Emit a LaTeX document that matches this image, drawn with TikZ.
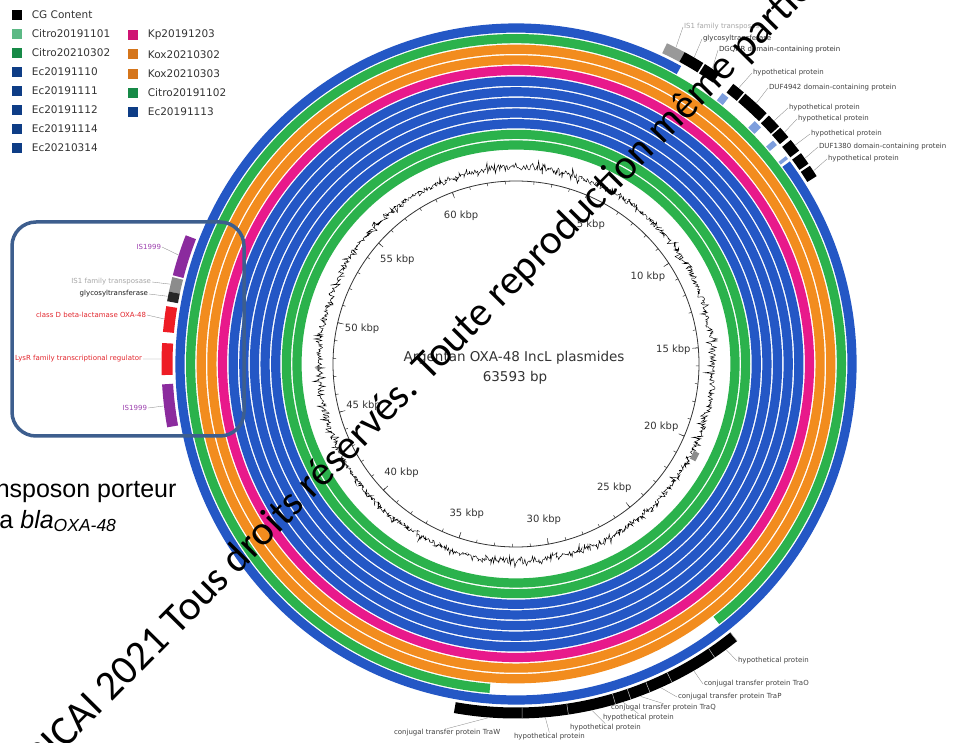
\documentclass[tikz,border=0pt]{standalone}
\usepackage{xcolor}
\usepackage{fontspec}
\setmainfont{DejaVu Sans}
\newfontfamily\wmfont{Carlito}
\newfontfamily\notefont{Liberation Sans}
\usepackage{tikz}
\usetikzlibrary{positioning,calc}

\definecolor{ringblue}{HTML}{2457C5}
\definecolor{ringgreen}{HTML}{2BB24C}
\definecolor{ringorange}{HTML}{F28C1E}
\definecolor{ringpink}{HTML}{E8198B}
\definecolor{fragblue}{HTML}{7D9EDD}
\definecolor{legblue}{HTML}{0E3D86}
\definecolor{leggreen}{HTML}{178A47}
\definecolor{leglight}{HTML}{5CB985}
\definecolor{legorange}{HTML}{D5751B}
\definecolor{legpink}{HTML}{CF1473}
\definecolor{hlframe}{HTML}{3D5E8E}
\definecolor{isviolet}{HTML}{8B2B9E}
\definecolor{oxared}{HTML}{EE1C25}
\definecolor{labred}{HTML}{E2262D}
\definecolor{labviolet}{HTML}{9C40AE}

\begin{document}
\begin{tikzpicture}[
    x=1pt, y=1pt,
    ring/.style={line width=9.2pt},
    annot/.style={line width=11pt},
    lead/.style={draw=black!45, line width=0.35pt},
    glabel/.style={font=\fontsize{7}{8}\selectfont, inner sep=0.8pt},
    kbp/.style={font=\fontsize{10}{12}\selectfont, text=black!80},
    legbox/.style={minimum size=10pt, inner sep=0pt},
    legtext/.style={font=\fontsize{10.5}{12}\selectfont, text=black!80, inner sep=0pt, anchor=west},
    tick/.style={black!80, line width=0.5pt},
]
\useasboundingbox (0,0) rectangle (955,742);
\clip (0,0) rectangle (955,742);
\coordinate (c) at (516,378);

% blast rings, inner to outer
\foreach \k/\col in {0/ringgreen, 1/ringgreen, 2/ringblue, 3/ringblue, 4/ringblue, 5/ringblue, 6/ringblue, 7/ringpink, 8/ringorange, 9/ringorange}
    \draw[ring, \col] (c) circle[radius={219+10.64*\k}];
\draw[ring, ringgreen] ($(c)+(-94.6:325.4)$) arc[start angle=-94.6, end angle=-412, radius=325.4];
\draw[ring, ringblue] ($(c)+(36.5:336)$) arc[start angle=36.5, end angle=-299, radius=336];
\foreach \a/\b in {37.3/38.6, 44.5/46, 49/50, 52.4/53}
    \draw[ring, fragblue] ($(c)+({90-\a}:336)$) arc[start angle={90-\a}, end angle={90-\b}, radius=336];

% GC content
\pgfmathsetseed{4242}
\draw[black, line width=0.45pt, shift={(c)}] plot[domain=0:360, samples=1400, variable=\t] (\t:{197+2.5*(2*rnd-1)+9*(2*rnd-1)*(2*rnd-1)*(2*rnd-1)});
\draw[line width=6pt, black!45] ($(c)+(-26:201)$) arc[start angle=-26, end angle=-28.5, radius=201];

% backbone and scale
\draw[black!80, line width=0.8pt] (c) circle[radius=183];
\foreach \k in {1,...,63}
    \draw[tick] ($(c)+({90-\k*5.661}:183)$) -- ($(c)+({90-\k*5.661}:180)$);
\foreach \k in {5,10,...,60}
    \draw[tick] ($(c)+({90-\k*5.661}:183)$) -- ($(c)+({90-\k*5.661}:177)$);
\foreach \k in {5,10,...,60}
    \node[kbp] (kb\k) at ($(c)+({90-\k*5.661}:158)$) {\k\ kbp};

\node[font=\fontsize{13.5}{16}\selectfont, text=black!80] (title) at (514,384) {Argentan OXA-48 IncL plasmides};
\node[font=\fontsize{13.5}{16}\selectfont, text=black!80] (size) at (515,364) {63593 bp};

% genes, top right
\foreach \a/\b/\col/\tc/\txt/\lx/\ly [count=\i] in {
    25.2/28.4/black!40/black!35/IS1 family transposase/683/715,
    28.4/31.9/black/black!80/glycosyltransferase/702/703,
    32.2/35.0/black/black!80/DGQHR domain-containing protein/718/692,
    37.8/40.0/black/black!75/hypothetical protein/752/669,
    40.3/45.0/black/black!75/DUF4942 domain-containing protein/768/654,
    45.5/47.9/black/black!75/hypothetical protein/788/634,
    48.2/50.2/black/black!75/hypothetical protein/797/623,
    50.8/53.0/black/black!75/hypothetical protein/810/608,
    53.5/55.6/black/black!75/DUF1380 domain-containing protein/818/595,
    56.0/58.0/black/black!75/hypothetical protein/827/583}
{
    \draw[annot, \col] ($(c)+({90-\a}:349)$) arc[start angle={90-\a}, end angle={90-\b}, radius=349];
    \coordinate (tr\i) at ($(c)+({90-(\a+\b)/2}:355)$);
    \node[glabel, text=\tc, anchor=west] (trl\i) at (\lx,\ly) {\txt};
    \draw[lead] (tr\i) -- (trl\i.west);
}

% genes, bottom
\foreach \a/\b/\txt/\lx/\ly/\tip [count=\i] in {
    141.4/145.9/hypothetical protein/737/81/west,
    145.9/153.9/conjugal transfer protein TraO/703/58/west,
    153.9/157.8/conjugal transfer protein TraP/677/45/west,
    157.8/161.1/conjugal transfer protein TraQ/610/34/north,
    161.1/163.7/hypothetical protein/602/24/north,
    163.7/171.5/hypothetical protein/569/14/north,
    171.5/179.0/hypothetical protein/513/5/north,
    179.0/190.1/conjugal transfer protein TraW/393/9/north}
{
    \draw[annot, black] ($(c)+({90-\a}:349)$) arc[start angle={90-\a}, end angle={90-\b}, radius=349];
    \draw[white!70!black, line width=0.5pt] ($(c)+({90-\a}:343.5)$) -- ($(c)+({90-\a}:354.5)$);
    \coordinate (bt\i) at ($(c)+({90-(\a+\b)/2}:355)$);
    \node[glabel, text=black!75, anchor=west] (btl\i) at (\lx,\ly) {\txt};
    \draw[lead] (bt\i) -- (btl\i.\tip);
}

% genes, left (transposon)
\foreach \a/\b/\col/\tc/\txt/\lx/\ly [count=\i] in {
    284.5/291.3/isviolet/labviolet/IS1999/162/495,
    281.8/284.2/black!45/black!35/IS1 family transposase/152/460,
    280.2/281.8/black!85/black!90/glycosyltransferase/149/448,
    275.2/279.4/oxared/labred/class D beta-lactamase OXA-48/147/427,
    268.2/273.4/oxared/labred/LysR family transcriptional regulator/143/383,
    259.7/266.7/isviolet/labviolet/IS1999/148/334}
{
    \draw[annot, \col] ($(c)+({90-\a}:349)$) arc[start angle={90-\a}, end angle={90-\b}, radius=349];
    \coordinate (lf\i) at ($(c)+({90-(\a+\b)/2}:355)$);
    \node[glabel, text=\tc, anchor=east] (lfl\i) at (\lx,\ly) {\txt};
    \draw[lead] (lfl\i.east) -- (lf\i);
}
\draw[hlframe, line width=3.5pt, rounded corners=24pt] (12,306) rectangle (244,520);

\node[font=\notefont\fontsize{25}{30}\selectfont, anchor=base west, inner sep=0pt] (tnp1) at (-41,244) {Transposon porteur};
\node[font=\notefont\fontsize{25}{30}\selectfont, anchor=base west, inner sep=0pt] (tnp2) at (-41,214) {de la \textit{bla}\textsubscript{\textit{OXA-48}}};

% legend
\foreach \lab/\col [count=\i] in {CG Content/black, Citro20191101/leglight, Citro20210302/leggreen, Ec20191110/legblue, Ec20191111/legblue, Ec20191112/legblue, Ec20191114/legblue, Ec20210314/legblue}
{
    \node[legbox, fill=\col] (la\i) at (17,{746-19*\i}) {};
    \node[legtext, right=9.5pt of la\i] (lat\i) {\lab};
}
\foreach \lab/\col [count=\i] in {Kp20191203/legpink, Kox20210302/legorange, Kox20210303/legorange, Citro20191102/leggreen, Ec20191113/legblue}
{
    \node[legbox, fill=\col] (lc\i) at (133,{726-19.2*\i}) {};
    \node[legtext, right=9.5pt of lc\i] (lct\i) {\lab};
}

\node[font=\wmfont\fontsize{41.5}{50}\selectfont, rotate=45.3, anchor=base west, inner sep=0pt] (wmark) at (42,-31) {RICAI 2021 Tous droits réservés. Toute reproduction même partielle interdite};
\end{tikzpicture}
\end{document}
